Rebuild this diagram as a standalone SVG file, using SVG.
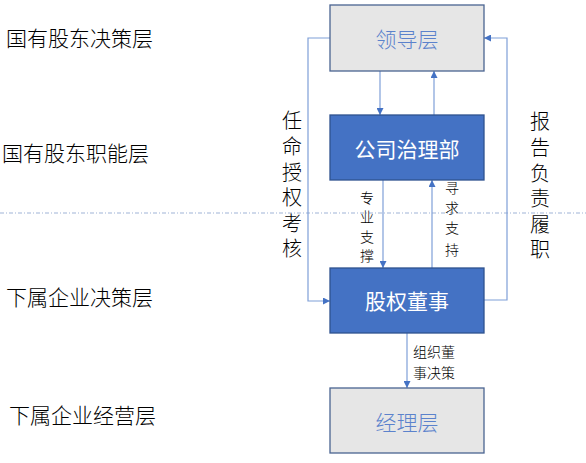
<svg xmlns="http://www.w3.org/2000/svg" width="586" height="463" viewBox="0 0 586 463">
<style>
.t{font-family:"Noto Sans CJK SC","Noto Sans",sans-serif;font-weight:300;fill:#000}
.lbl{font-size:21px}
.v{font-size:20px;text-anchor:middle}
.s{font-size:14px}
.sv{font-size:14px;text-anchor:middle}
.gray{fill:#e6e6e6;stroke:#4a6491;stroke-width:1.3}
.blue{fill:#4472c4;stroke:#2f528f;stroke-width:1.3}
.bt{font-family:"Noto Sans CJK SC","Noto Sans",sans-serif;font-size:21px;text-anchor:middle;dominant-baseline:central}
.c{fill:none;stroke:#7f9fd8;stroke-width:1.2}
</style>
<defs>
<marker id="ah" viewBox="0 0 10 10" refX="10" refY="5" markerWidth="7" markerHeight="7" markerUnits="userSpaceOnUse" orient="auto">
<path d="M0,0 L10,5 L0,10 z" fill="#4472c4"/>
</marker>
</defs>
<line x1="0" y1="213" x2="586" y2="213" stroke="#9fb3d6" stroke-width="1" stroke-dasharray="4,2,1,2"/>
<g id="layer-labels">
<text class="t lbl" x="6" y="46">国有股东决策层</text>
<text class="t lbl" x="2" y="161">国有股东职能层</text>
<text class="t lbl" x="6" y="305">下属企业决策层</text>
<text class="t lbl" x="9" y="423">下属企业经营层</text>
</g>
<g id="connectors">
<line class="c" x1="380" y1="71" x2="380" y2="115" marker-end="url(#ah)"/>
<line class="c" x1="434" y1="115" x2="434" y2="71" marker-end="url(#ah)"/>
<line class="c" x1="383" y1="180" x2="383" y2="268" marker-end="url(#ah)"/>
<line class="c" x1="432" y1="268" x2="432" y2="180" marker-end="url(#ah)"/>
<polyline class="c" points="330,38 308,38 308,301 330,301" marker-end="url(#ah)"/>
<polyline class="c" points="484,300 507,300 507,38 484,38" marker-end="url(#ah)"/>
<line class="c" x1="407" y1="333" x2="407" y2="388" marker-end="url(#ah)"/>
<g class="t v">
<text x="292" y="128">任</text>
<text x="292" y="154">命</text>
<text x="292" y="180">授</text>
<text x="292" y="205">权</text>
<text x="292" y="231">考</text>
<text x="292" y="256">核</text>
</g>
<g class="t v">
<text x="540" y="129">报</text>
<text x="540" y="155">告</text>
<text x="540" y="181">负</text>
<text x="540" y="206">责</text>
<text x="540" y="232">履</text>
<text x="540" y="257">职</text>
</g>
<g class="t sv">
<text x="367" y="203">专</text>
<text x="367" y="222">业</text>
<text x="367" y="242">支</text>
<text x="367" y="261">撑</text>
</g>
<g class="t sv">
<text x="452" y="193">寻</text>
<text x="452" y="213">求</text>
<text x="452" y="233">支</text>
<text x="452" y="255">持</text>
</g>
<text class="t s" x="413" y="357">组织董</text>
<text class="t s" x="413" y="378">事决策</text>
</g>
<g id="node-lingdao">
<rect class="gray" x="330" y="5" width="154" height="66"/>
<text class="bt" x="407" y="38" fill="#5b82cc" font-weight="300">领导层</text>
</g>
<g id="node-gongsi">
<rect class="blue" x="330" y="115" width="154" height="65"/>
<text class="bt" x="407" y="148" fill="#ffffff">公司治理部</text>
</g>
<g id="node-guquan">
<rect class="blue" x="330" y="268" width="154" height="65"/>
<text class="bt" x="407" y="300" fill="#ffffff">股权董事</text>
</g>
<g id="node-jingli">
<rect class="gray" x="330" y="388" width="154" height="65"/>
<text class="bt" x="407" y="421" fill="#5b82cc" font-weight="300">经理层</text>
</g>
</svg>
